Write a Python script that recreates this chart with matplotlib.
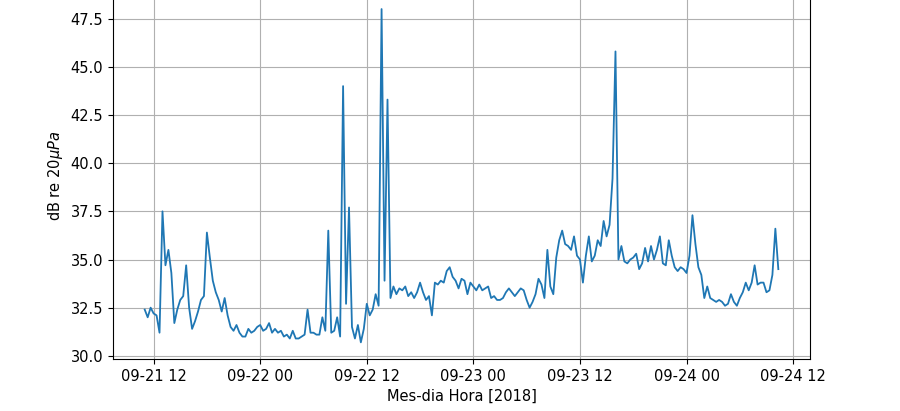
import matplotlib
matplotlib.use("Agg")
import matplotlib.pyplot as plt
import matplotlib.dates as mdates
import pandas as pd

# sound level samples, every 20 min from 2018-09-21 11:00
t_start = "2018-09-21 11:00"
step = "20min"
db_values = [
    32.4, 32.0, 32.5, 32.2, 32.1, 31.2, 37.5, 34.7, 35.5, 34.3,
    31.7, 32.4, 32.9, 33.1, 34.7, 32.5, 31.4, 31.8, 32.3, 32.9,
    33.1, 36.4, 35.1, 33.9, 33.3, 32.9, 32.3, 33.0, 32.1, 31.5,
    31.3, 31.6, 31.2, 31.0, 31.0,
    31.4, 31.2, 31.3, 31.5, 31.6, 31.3, 31.4, 31.7, 31.2, 31.4,
    31.2, 31.3, 31.0, 31.1, 30.9, 31.3, 30.9, 30.9, 31.0, 31.1,
    32.4, 31.2, 31.2, 31.1, 31.1, 32.0, 31.3, 36.5, 31.2, 31.3,
    32.0, 31.0, 44.0, 32.7, 37.7,
    31.5, 30.9, 31.6, 30.7, 31.4, 32.7, 32.1, 32.4, 33.2, 32.6,
    48.0, 33.9, 43.3, 33.0, 33.6, 33.2, 33.5, 33.4, 33.6, 33.1,
    33.3, 33.0, 33.3, 33.8, 33.3, 32.9, 33.1, 32.1, 33.8, 33.7,
    33.9, 33.8, 34.4, 34.6, 34.1, 33.9,
    33.5, 34.0, 33.9, 33.2, 33.8, 33.6, 33.4, 33.7, 33.4, 33.5,
    33.6, 33.0, 33.1, 32.9, 32.9, 33.0, 33.3, 33.5, 33.3, 33.1,
    33.3, 33.5, 33.4, 32.9, 32.5, 32.8, 33.2, 34.0, 33.7, 33.0,
    35.5, 33.6, 33.2, 35.1, 36.0,
    36.5, 35.8, 35.7, 35.5, 36.2, 35.2, 35.0, 33.8, 35.2, 36.2,
    34.9, 35.2, 36.0, 35.7, 37.0, 36.2, 36.8, 39.2, 45.8, 35.0,
    35.7, 34.9, 34.8, 35.0, 35.1, 35.3, 34.5, 34.8, 35.6, 34.9,
    35.7, 35.0, 35.5, 36.2, 34.8,
    34.7, 36.0, 35.2, 34.6, 34.4, 34.6, 34.5, 34.3, 35.2, 37.3,
    35.8, 34.6, 34.2, 33.0, 33.6, 33.0, 32.9, 32.8, 32.9, 32.8,
    32.6, 32.7, 33.2, 32.8, 32.6, 33.0, 33.3, 33.8, 33.4, 33.8,
    34.7, 33.7, 33.8, 33.8, 33.3, 33.4, 34.2, 36.6, 34.5,
]
times = pd.date_range(t_start, periods=len(db_values), freq=step)

fig = plt.figure(figsize=(9, 4.11), dpi=100)
# top of the axes sits just above the canvas, as in the cropped original
ax = fig.add_axes([0.1256, 0.1265, 0.7744, 0.892])
ax.plot(times, db_values, color="C0", lw=1.3)
ax.xaxis.set_major_locator(mdates.HourLocator(byhour=[0, 12]))
ax.xaxis.set_major_formatter(mdates.DateFormatter("%m-%d %H"))
ax.grid(True)
ax.tick_params(labelsize=10.5)
ax.set_xlabel("Mes-dia Hora [2018]", fontsize=10.5)
ax.set_ylabel("dB re 20$\\mu Pa$", fontsize=10.5)

fig.savefig("out.png", dpi=100)
